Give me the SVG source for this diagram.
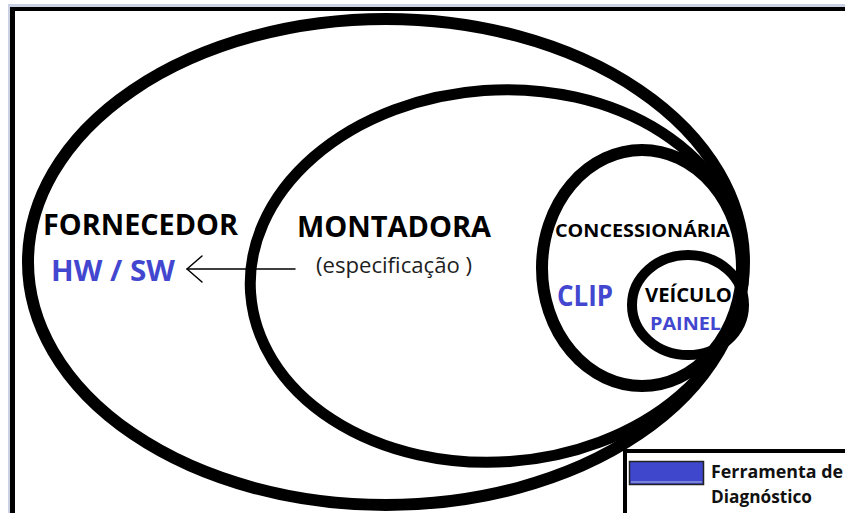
<svg xmlns="http://www.w3.org/2000/svg" width="845" height="513" viewBox="0 0 845 513">
  <style>
    .ring { fill: none; stroke: #000; }
    .lbl { font-family: "Open Sans", "DejaVu Sans", sans-serif; font-weight: 700; }
    .dark { fill: #000; }
    .blue { fill: #4347cf; }
    .note { font-family: "Open Sans", "DejaVu Sans", sans-serif; font-weight: 400; fill: #1e1e1e; }
    .conn { fill: none; stroke: #000; stroke-width: 1.5; stroke-linecap: round; stroke-linejoin: round; }
  </style>

  <!-- page background and window frame -->
  <rect x="0" y="0" width="845" height="513" fill="#fff"/>
  <rect x="8" y="4" width="837" height="3" fill="#c9d1e3"/>
  <rect x="8" y="4" width="2" height="509" fill="#c9d1e3"/>
  <rect x="10" y="7" width="835" height="4" fill="#000"/>
  <rect x="10" y="7" width="5" height="506" fill="#000"/>

  <!-- nested domains -->
  <g id="fornecedor">
    <ellipse class="ring" cx="386" cy="262" rx="358" ry="243" stroke-width="12"/>
    <text class="lbl dark" x="43" y="235" font-size="28" textLength="195" lengthAdjust="spacingAndGlyphs">FORNECEDOR</text>
    <text class="lbl blue" x="51" y="281" font-size="29" textLength="124" lengthAdjust="spacingAndGlyphs">HW / SW</text>
  </g>

  <g id="montadora">
    <ellipse class="ring" cx="497" cy="276" rx="247" ry="186" stroke-width="11" transform="rotate(-4 497 276)"/>
    <text class="lbl dark" x="297" y="237" font-size="28" textLength="194" lengthAdjust="spacingAndGlyphs">MONTADORA</text>
    <text class="note" x="316" y="273" font-size="22" textLength="156" lengthAdjust="spacingAndGlyphs">(especificação )</text>
  </g>

  <g id="concessionaria">
    <ellipse class="ring" cx="642" cy="268" rx="100" ry="118" stroke-width="12"/>
    <text class="lbl dark" x="555" y="237" font-size="18" textLength="175" lengthAdjust="spacingAndGlyphs">CONCESSIONÁRIA</text>
    <text class="lbl blue" x="557" y="306" font-size="28" textLength="56" lengthAdjust="spacingAndGlyphs">CLIP</text>
  </g>

  <g id="veiculo">
    <ellipse class="ring" cx="688" cy="305" rx="56" ry="50" stroke-width="10"/>
    <text class="lbl dark" x="645" y="302" font-size="20" textLength="87" lengthAdjust="spacingAndGlyphs">VEÍCULO</text>
    <text class="lbl blue" x="650" y="330" font-size="18" textLength="71" lengthAdjust="spacingAndGlyphs">PAINEL</text>
  </g>

  <!-- specification flows from the assembler to the supplier -->
  <g id="connectors">
    <path class="conn" d="M295 269 H187"/>
    <path class="conn" d="M202 256 L187 269 L202 282"/>
  </g>

  <!-- legend -->
  <g id="legend">
    <rect x="625" y="451" width="230" height="70" fill="#fff"/>
    <path d="M625 513 V451 H845" fill="none" stroke="#000" stroke-width="4"/>
    <rect x="629.5" y="461.5" width="74" height="23" fill="#3f48cc" stroke="#222" stroke-width="1.5"/>
    <line x1="631" y1="482" x2="702" y2="482" stroke="#b8bce8" stroke-width="1"/>
    <text class="lbl" x="711" y="478" font-size="17" fill="#111" textLength="132" lengthAdjust="spacingAndGlyphs">Ferramenta de</text>
    <text class="lbl" x="711" y="503" font-size="17" fill="#111" textLength="101" lengthAdjust="spacingAndGlyphs">Diagnóstico</text>
  </g>
</svg>
